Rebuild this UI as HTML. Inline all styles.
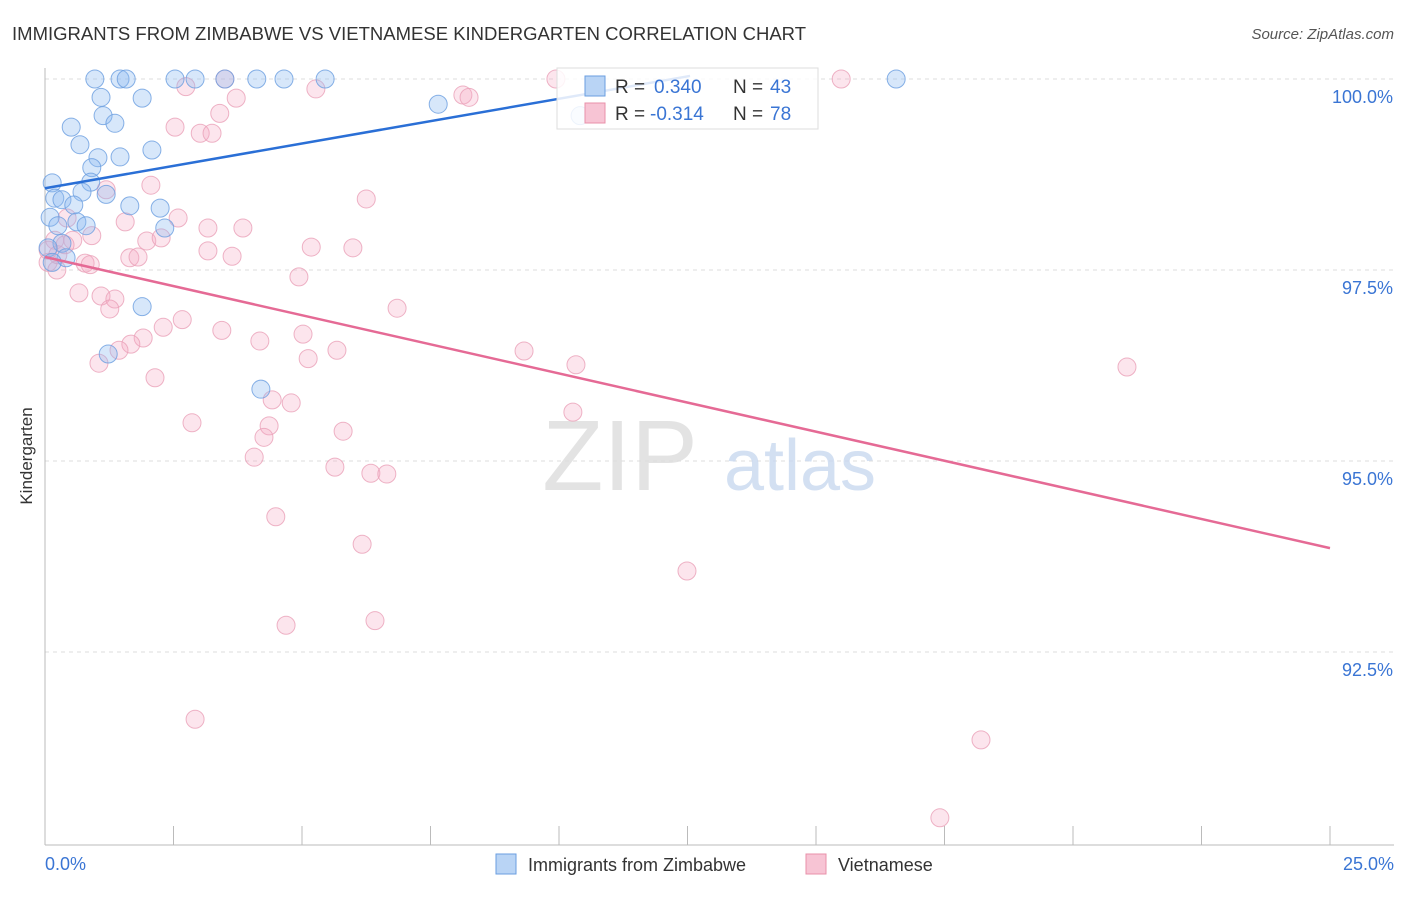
<!DOCTYPE html>
<html><head><meta charset="utf-8"><style>
body{margin:0;background:#fff;font-family:"Liberation Sans",sans-serif;}
svg text{font-family:"Liberation Sans",sans-serif;}
</style></head><body>
<svg id="c" width="1406" height="892">
<text x="12" y="40" font-size="18.5" fill="#333" textLength="794">IMMIGRANTS FROM ZIMBABWE VS VIETNAMESE KINDERGARTEN CORRELATION CHART</text>
<text x="1394" y="39" font-size="15" fill="#555" text-anchor="end" font-style="italic">Source: ZipAtlas.com</text>
<text x="32" y="456" font-size="17" fill="#333" text-anchor="middle" transform="rotate(-90 32 456)">Kindergarten</text>
<g id="grid"></g>
<text x="620" y="490" font-size="100" fill="#ddd" font-family="Liberation Serif" text-anchor="middle" opacity="0.8">ZIP</text>
<text x="800" y="490" font-size="72" fill="#c9d9f0" text-anchor="middle" opacity="0.8">atlas</text>
<g id="pts"></g>
<g id="lines"></g>
<g>
<rect x="557" y="68" width="261" height="61" fill="rgba(255,255,255,0.85)" stroke="#ddd"/>
<rect x="585" y="76" width="20" height="20" fill="#b9d4f5" stroke="#6a9ee0"/>
<text x="615" y="93" font-size="19" fill="#333">R =</text>
<text x="654" y="93" font-size="19" fill="#3a75d4">0.340</text>
<text x="733" y="93" font-size="19" fill="#333">N =</text>
<text x="770" y="93" font-size="19" fill="#3a75d4">43</text>
<rect x="585" y="103" width="20" height="20" fill="#f7c4d4" stroke="#e890aa"/>
<text x="615" y="120" font-size="19" fill="#333">R =</text>
<text x="650" y="120" font-size="19" fill="#3a75d4">-0.314</text>
<text x="733" y="120" font-size="19" fill="#333">N =</text>
<text x="770" y="120" font-size="19" fill="#3a75d4">78</text>
</g>
<g>
<rect x="496" y="854" width="20" height="20" fill="#b9d4f5" stroke="#6a9ee0"/>
<text x="528" y="871" font-size="18" fill="#333">Immigrants from Zimbabwe</text>
<rect x="806" y="854" width="20" height="20" fill="#f7c4d4" stroke="#e890aa"/>
<text x="838" y="871" font-size="18" fill="#333">Vietnamese</text>
</g>
</svg>
<script>
const blueX=[0.97,1.46,1.58,2.53,2.92,3.50,4.12,4.65,5.45,16.56,1.09,1.89,7.65,1.13,1.36,0.51,0.68,2.08,1.03,1.46,0.91,0.89,0.14,0.19,0.72,1.19,0.33,0.56,1.65,2.24,0.10,0.25,0.62,0.80,2.33,0.33,0.41,1.89,1.23,4.20,10.41,0.06,0.14];
const blueY=[100,100,100,100,100,100,100,100,100,100,99.76,99.75,99.67,99.52,99.42,99.37,99.14,99.07,98.97,98.98,98.84,98.65,98.64,98.44,98.52,98.49,98.42,98.35,98.34,98.31,98.19,98.08,98.13,98.08,98.05,97.85,97.66,97.02,96.40,95.94,99.52,97.79,97.60];
const pinkX=[3.50,9.94,15.49,2.74,5.27,8.13,8.25,3.72,3.40,2.53,3.02,3.25,2.06,1.19,6.25,0.43,2.59,1.56,3.17,3.85,0.91,0.54,1.98,2.26,0.19,5.18,5.99,3.17,3.64,1.65,1.81,0.78,0.88,0.06,0.23,4.94,0.66,1.09,1.36,6.85,1.26,2.67,2.30,3.44,5.02,1.91,4.18,1.67,1.44,5.68,9.32,1.05,5.12,10.33,21.05,2.14,4.42,4.79,10.27,2.86,4.36,5.80,4.26,4.07,5.64,6.34,6.65,4.49,6.17,12.49,6.42,4.69,2.92,18.21,17.41,0.06,0.25,0.39];
const pinkY=[100,100,100,99.90,99.87,99.79,99.76,99.75,99.55,99.37,99.29,99.29,98.61,98.55,98.43,98.18,98.18,98.13,98.05,98.05,97.95,97.89,97.88,97.92,97.89,97.80,97.79,97.75,97.68,97.66,97.67,97.59,97.57,97.60,97.50,97.41,97.20,97.16,97.12,97.00,96.99,96.85,96.75,96.71,96.66,96.61,96.57,96.53,96.45,96.45,96.44,96.28,96.34,96.26,96.23,96.09,95.80,95.76,95.64,95.50,95.46,95.39,95.31,95.05,94.92,94.84,94.83,94.27,93.91,93.56,92.91,92.85,91.62,91.35,90.33,97.76,97.70,97.83];
const yTicks=[100,97.5,95,92.5];
const yTickLabels=["100.0%","97.5%","95.0%","92.5%"];
const xTicks=[0,2.5,5,7.5,10,12.5,15,17.5,20,22.5,25];
const blueTrend=[[0,98.57],[12.55,100.04]];
const pinkTrend=[[0,97.67],[25,93.86]];
const X=v=>45+v*51.4, Y=v=>79+(100-v)*76.4;
const NS="http://www.w3.org/2000/svg";
function mk(t,a,p){const e=document.createElementNS(NS,t);for(const k in a)e.setAttribute(k,a[k]);p.appendChild(e);return e;}
const g=document.getElementById('grid');
yTicks.forEach((t,i)=>{
 const l=mk('line',{x1:45,x2:1394,y1:Y(t),y2:Y(t),stroke:'#ddd','stroke-dasharray':'4,4'},g);
 
 
 const tx=mk('text',{x:1393,y:Y(t)+24,'font-size':18,fill:'#3a75d4','text-anchor':'end'},g);
 tx.textContent=yTickLabels[i];
 
 
});
const ax=mk('line',{x1:45,x2:45,y1:68,y2:845,stroke:'#bbb'},g);


const bx=mk('line',{x1:45,x2:1394,y1:845,y2:845,stroke:'#bbb'},g);


xTicks.forEach(t=>{
 const l=mk('line',{x1:X(t),x2:X(t),y1:826,y2:845,stroke:'#bbb'},g);
 
 
});
[[0,"0.0%","start",45],[25,"25.0%","end",1394]].forEach(d=>{
 const tx=mk('text',{x:d[3],y:870,'font-size':18,fill:'#3a75d4','text-anchor':d[2]},g);
 tx.textContent=d[1];
 
 
});
const P=document.getElementById('pts');
function pts(xs,ys,fill,stroke,name){xs.forEach((x,i)=>{
 const c=mk('circle',{cx:X(x),cy:Y(ys[i]),r:9,fill:fill,stroke:stroke,'stroke-width':1,'stroke-opacity':0.8},P);
 
 
});}
pts(pinkX,pinkY,'rgba(244,170,195,0.3)','#eaa0b8','vietnamese-point');
pts(blueX,blueY,'rgba(140,185,240,0.35)','#6a9ee0','zimbabwe-point');
const L=document.getElementById('lines');
const bl=mk('line',{x1:X(blueTrend[0][0]),y1:Y(blueTrend[0][1]),x2:X(blueTrend[1][0]),y2:Y(blueTrend[1][1]),stroke:'#2a6fd6','stroke-width':2.5},L);


const pl=mk('line',{x1:X(pinkTrend[0][0]),y1:Y(pinkTrend[0][1]),x2:X(pinkTrend[1][0]),y2:Y(pinkTrend[1][1]),stroke:'#e56a95','stroke-width':2.5},L);


</script>
</body></html>
